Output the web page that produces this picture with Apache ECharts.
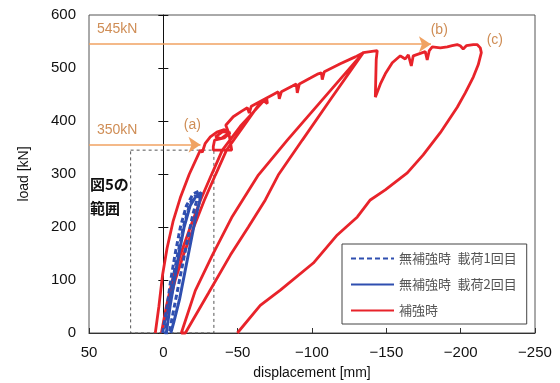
<!DOCTYPE html>
<html><head><meta charset="utf-8">
<script src="https://cdn.jsdelivr.net/npm/echarts@6/dist/echarts.min.js"></script>
<style>html,body{margin:0;padding:0;background:#fff}#c{width:560px;height:383px}</style>
</head><body><div id="c"></div>
<script>
// ---- data ----
const seriesNames = ['無補強時\u2002載荷1回目', '無補強時\u2002載荷2回目', '補強時'];
const xRange = [-250, 50];
const yRange = [0, 600];

// un-reinforced, 1st loading (dashed)
const unreinforced1 = [[0.5,0],[-2.5,50],[-5,100],[-8,150],[-11.5,200],[-15.5,240],[-20,262],[-24,268],[-23,255],[-20,225],[-16.5,180],[-13,130],[-9.5,80],[-6,30],[-4,0],[-1,0],[-3.5,50],[-7,110],[-10.5,160],[-14,205],[-18,245],[-22,262]];
// un-reinforced, 2nd loading (solid)
const unreinforced2 = [[-2,0],[-4.5,50],[-7.5,100],[-10.5,150],[-14,200],[-18,240],[-22,258],[-25.5,265],[-24.5,250],[-21.5,215],[-18,165],[-14.5,115],[-11,65],[-7,20],[-5,0]];

// reinforced path, in loading order
const reinfFirstLoad = [[5.4,0],[3,50],[0.5,110],[-2.5,160],[-6.5,210],[-11.4,255],[-17.5,300],[-24.9,345]];
const reinfAroundA = [[-26.2,341],[-28.2,358],[-31.6,370],[-36,379],[-41,384],[-44,377],[-39,367],[-35,370],[-40,380],[-45,378],[-41,368],[-34.5,364],[-33.6,352],[-33.6,345],[-46,345],[-45,362],[-44,378],[-42,392]];
const reinfToPeak1 = [[-47,408],[-53,419],[-56.5,425],[-57.8,415],[-59.2,428],[-67.3,440],[-69.5,443],[-70,433]];
const reinfUnload1 = [[-67.5,438],[-51.8,390],[-39.7,345],[-32.3,298],[-24.9,250],[-18.2,200],[-11.4,147],[-6.1,100],[-2,50],[1.3,0]];
const reinfReload1 = [[0.5,0],[-3.5,50],[-8,100],[-13.5,147],[-20.5,200],[-27.5,250],[-35,298],[-42.5,345],[-54,390],[-64,430],[-67.3,440]];
const reinfToPeak2 = [[-73.3,449],[-77.3,455],[-78,442],[-79.4,455],[-86.8,466],[-89.4,470],[-90.1,453],[-91.5,470],[-98.9,481],[-104.2,489],[-106.3,491],[-106.9,478],[-108.3,493],[-119,508],[-129.1,521],[-134.5,529]];
const reinfUnload2 = [[-112.3,440],[-93.5,364],[-77.3,298],[-68.6,251],[-57.2,200],[-45.1,147],[-30.3,75],[-14.8,0]];
const reinfReload2 = [[-12.1,0],[-21.5,80],[-33,147],[-46.4,220],[-63.9,298],[-83.4,364],[-106.9,440],[-134.5,529]];
const reinfToFinal = [[-139.2,531],[-143.9,533],[-143.2,516],[-142.6,445],[-146,470],[-149.3,489],[-154,510],[-159.4,523],[-162.7,517],[-164.8,525],[-166.1,525],[-166.8,504],[-168.1,523],[-176.2,531],[-177.5,515],[-178.9,533],[-180.9,540],[-186.3,538],[-191,540],[-194.3,542],[-197.7,544],[-199.7,542],[-201.7,536],[-203.8,542],[-208.5,544],[-211.2,544],[-213.2,538],[-213.9,529]];
const reinfUnloadFinal = [[-211.8,506],[-208.5,483],[-203.1,453],[-197.7,426],[-186.3,378],[-174.8,336],[-164.1,302],[-149.3,270],[-139.2,251],[-130.5,219],[-117,185],[-100.9,132],[-78.7,81],[-65.2,52],[-49.8,0]];

// annotations
const refLoads = [545, 355];
const refLabels = ['545kN', '350kN'];
const refEnds = [-180, -25];
const pointLabels = ['(a)', '(b)', '(c)'];
const pointCoords = [[-19.5,392],[-185.6,572],[-223,553]];
const rangeBox = [[22,345],[-34,-6]];
const rangeText = '図5の\n範囲';

const reinforced = [].concat(reinfFirstLoad, reinfAroundA, reinfToPeak1, reinfUnload1, reinfReload1,
  reinfToPeak2, reinfUnload2, reinfReload2, reinfToFinal, reinfUnloadFinal);

// ---- chart ----
const FONT = "'Liberation Sans', Arial, 'Noto Sans CJK JP', sans-serif";
const JP = "'Noto Sans CJK JP', sans-serif";
const orangeLine = '#f0a262', orangeText = '#cf8d55';
const blue = '#2f4fb0', red = '#e8232a';

const chart = echarts.init(document.getElementById('c'));
chart.setOption({
  animation: false,
  backgroundColor: '#fff',
  grid: { left: 89, right: 25, top: 15, bottom: 50, outerBoundsMode: 'none', containLabel: false,
          show: true, borderColor: '#555', borderWidth: 1, backgroundColor: 'transparent' },
  legend: {
    data: seriesNames, orient: 'vertical', left: 342, top: 244,
    itemWidth: 43, itemHeight: 14, itemGap: 13, padding: [8, 10, 7, 8],
    borderColor: '#444', borderWidth: 1, backgroundColor: '#fff',
    itemStyle: { opacity: 0 },
    textStyle: { color: '#555', fontSize: 13, fontFamily: JP }
  },
  xAxis: {
    type: 'value', min: xRange[0], max: xRange[1], interval: 50, inverse: true,
    name: 'displacement [mm]', nameLocation: 'middle', nameGap: 33,
    nameTextStyle: { color: '#111', fontSize: 14, fontFamily: FONT },
    axisLine: { onZero: false, lineStyle: { color: '#333' } },
    axisTick: { inside: true, length: 5, lineStyle: { color: '#333' } },
    axisLabel: { color: '#111', fontSize: 15, fontFamily: FONT, margin: 12, formatter: v => String(v).replace('-', '\u2212') },
    splitLine: { show: false }
  },
  yAxis: [
    {
      type: 'value', min: yRange[0], max: yRange[1], interval: 100, position: 'left',
      name: 'load [kN]', nameLocation: 'middle', nameGap: 58,
      nameTextStyle: { color: '#111', fontSize: 14, fontFamily: FONT },
      axisLine: { show: false, onZero: false },
      axisTick: { show: false },
      axisLabel: { color: '#111', fontSize: 15, fontFamily: FONT, margin: 13 },
      splitLine: { show: false }
    },
    {
      type: 'value', min: yRange[0], max: yRange[1], interval: 100, position: 'left',
      axisLine: { show: true, onZero: true, onZeroAxisIndex: 0, lineStyle: { color: '#111' } },
      axisTick: { show: true, length: 5, lineStyle: { color: '#111' } },
      axisLabel: { show: false }, splitLine: { show: false }
    },
    {
      type: 'value', min: yRange[0], max: yRange[1], interval: 100, position: 'left',
      axisLine: { show: false, onZero: true, onZeroAxisIndex: 0 },
      axisTick: { show: true, inside: true, length: 5, lineStyle: { color: '#111' } },
      axisLabel: { show: false }, splitLine: { show: false }
    }
  ],
  graphic: [{
    type: 'text', left: 90, top: 172,
    style: { text: rangeText, font: 'bold 15px ' + JP, fill: '#111', lineHeight: 24 }
  }],
  series: [
    {
      name: seriesNames[2], type: 'line', data: reinforced, showSymbol: false, symbol: 'none',
      clip: false, z: 2,
      lineStyle: { color: red, width: 2.8 }, itemStyle: { color: red },
      markLine: {
        silent: true, symbol: ['none', 'arrow'], symbolSize: 12, z: 10,
        lineStyle: { color: orangeLine, width: 1.6, type: 'solid' },
        itemStyle: { color: orangeLine },
        label: { show: true, position: 'insideStartTop', color: orangeText, fontSize: 14, fontFamily: FONT, distance: [8, 8] },
        data: refLoads.map((v, i) => [
          { coord: [xRange[1], v], label: { formatter: refLabels[i] } },
          { coord: [refEnds[i], v] }
        ])
      },
      markPoint: {
        silent: true, symbol: 'circle', symbolSize: 0,
        label: { show: true, position: 'inside', color: orangeText, fontSize: 14, fontFamily: FONT },
        data: pointLabels.map((t, i) => ({ coord: pointCoords[i], label: { formatter: t } }))
      },
      markArea: {
        silent: true,
        itemStyle: { color: 'rgba(0,0,0,0)', borderColor: '#555', borderWidth: 1, borderType: [3, 3] },
        data: [[{ coord: rangeBox[0] }, { coord: rangeBox[1] }]]
      }
    },
    {
      name: seriesNames[0], type: 'line', data: unreinforced1, showSymbol: false, symbol: 'none', z: 3,
      lineStyle: { color: blue, width: 3, type: [5, 3] }, itemStyle: { color: blue }
    },
    {
      name: seriesNames[1], type: 'line', data: unreinforced2, showSymbol: false, symbol: 'none', z: 3,
      lineStyle: { color: blue, width: 3 }, itemStyle: { color: blue }
    }
  ]
});
</script></body></html>
